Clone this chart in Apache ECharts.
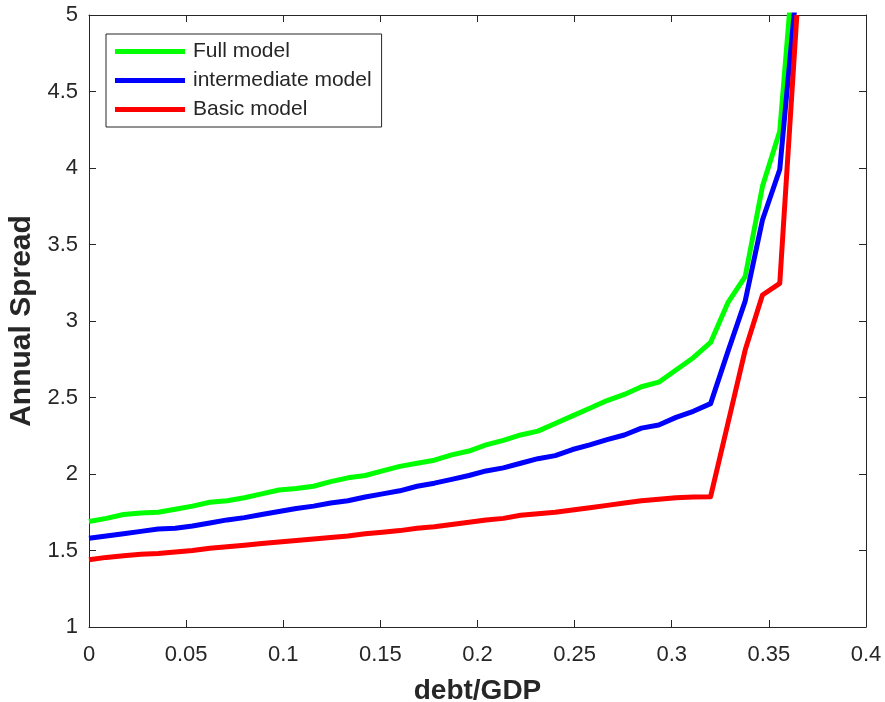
<!DOCTYPE html>
<html>
<head>
<meta charset="utf-8">
<script src="https://cdn.jsdelivr.net/npm/echarts@6/dist/echarts.min.js"></script>
<style>
  html, body { margin: 0; padding: 0; background: #fff; }
  #chart { width: 885px; height: 702px; }
</style>
</head>
<body>
<div id="chart"></div>
<script>
// debt/GDP grid
const debtGdp = [0, 0.0089, 0.0178, 0.0267, 0.0356, 0.0444, 0.0533, 0.0622, 0.0711, 0.08,
  0.0889, 0.0978, 0.1067, 0.1156, 0.1244, 0.1333, 0.1422, 0.1511, 0.16, 0.1689,
  0.1778, 0.1867, 0.1956, 0.2044, 0.2133, 0.2222, 0.2311, 0.24, 0.2489, 0.2578,
  0.2667, 0.2756, 0.2844, 0.2933, 0.3022, 0.3111, 0.32, 0.3289, 0.3378, 0.3467,
  0.3556, 0.3644];

const fullModel = [1.69, 1.71, 1.735, 1.745, 1.75, 1.77, 1.79, 1.815, 1.825, 1.845,
  1.87, 1.895, 1.905, 1.92, 1.95, 1.975, 1.99, 2.02, 2.05, 2.07,
  2.09, 2.125, 2.15, 2.19, 2.22, 2.255, 2.28, 2.33, 2.38, 2.43,
  2.48, 2.52, 2.57, 2.60, 2.68, 2.76, 2.86, 3.12, 3.29, 3.88,
  4.24, 5.6];

const intermediateModel = [1.58, 1.595, 1.61, 1.625, 1.64, 1.645, 1.66, 1.68, 1.70, 1.715,
  1.735, 1.755, 1.775, 1.79, 1.81, 1.825, 1.85, 1.87, 1.89, 1.92,
  1.94, 1.965, 1.99, 2.02, 2.04, 2.07, 2.10, 2.12, 2.16, 2.19,
  2.225, 2.255, 2.30, 2.32, 2.37, 2.41, 2.46, 2.80, 3.13, 3.66,
  3.99, 5.2];

const basicModel = [1.44, 1.455, 1.465, 1.475, 1.48, 1.49, 1.50, 1.515, 1.525, 1.535,
  1.545, 1.555, 1.565, 1.575, 1.585, 1.595, 1.61, 1.62, 1.63, 1.645,
  1.655, 1.67, 1.685, 1.70, 1.71, 1.73, 1.74, 1.75, 1.765, 1.78,
  1.795, 1.81, 1.825, 1.835, 1.845, 1.85, 1.852, 2.33, 2.81, 3.17,
  3.246, 5.0];

const seriesNames = ['Full model', 'intermediate model', 'Basic model'];
const seriesColors = ['#00ff00', '#0000ff', '#ff0000'];
const seriesValues = [fullModel, intermediateModel, basicModel];

const axisColor = '#262626';
const font = '"Liberation Sans", Arial, Helvetica, sans-serif';

const pairs = vals => debtGdp.map((x, i) => [x, vals[i]]);

const boxAxis = {
  axisLine: { show: true, onZero: false, lineStyle: { color: axisColor, width: 1 } },
  axisTick: { show: true, inside: true, length: 7, lineStyle: { color: axisColor } },
  splitLine: { show: false }
};

const chart = echarts.init(document.getElementById('chart'));
chart.setOption({
  backgroundColor: '#ffffff',
  animation: false,
  textStyle: { fontFamily: font },
  grid: { left: 89, right: 19, top: 15, bottom: 75, containLabel: false, outerBoundsMode: 'none' },
  legend: {
    orient: 'vertical',
    left: 106,
    top: 34,
    data: seriesNames,
    icon: 'rect',
    itemWidth: 70,
    itemHeight: 5,
    itemGap: 8,
    padding: [7, 10, 7, 9],
    borderColor: axisColor,
    borderWidth: 1,
    backgroundColor: '#ffffff',
    textStyle: { fontFamily: font, fontSize: 21, color: axisColor, padding: [0, 0, 0, 3], lineHeight: 21 }
  },
  xAxis: [
    Object.assign({
      type: 'value', position: 'bottom', min: 0, max: 0.4, interval: 0.05,
      name: 'debt/GDP', nameLocation: 'middle', nameGap: 50,
      nameTextStyle: { fontFamily: font, fontSize: 28, fontWeight: 'bold', color: axisColor },
      axisLabel: { fontFamily: font, fontSize: 22, color: axisColor, margin: 17 }
    }, boxAxis),
    Object.assign({
      type: 'value', position: 'top', min: 0, max: 0.4, interval: 0.05,
      axisLabel: { show: false }
    }, boxAxis)
  ],
  yAxis: [
    Object.assign({
      type: 'value', position: 'left', min: 1, max: 5, interval: 0.5,
      name: 'Annual Spread', nameLocation: 'middle', nameGap: 50,
      nameTextStyle: { fontFamily: font, fontSize: 30, fontWeight: 'bold', color: axisColor },
      axisLabel: { fontFamily: font, fontSize: 22, color: axisColor, margin: 11 }
    }, boxAxis),
    Object.assign({
      type: 'value', position: 'right', min: 1, max: 5, interval: 0.5,
      axisLabel: { show: false }
    }, boxAxis)
  ],
  series: seriesNames.map((name, k) => ({
    name: name,
    type: 'line',
    xAxisIndex: 0,
    yAxisIndex: 0,
    data: pairs(seriesValues[k]),
    showSymbol: false,
    symbol: 'none',
    clip: true,
    color: seriesColors[k],
    lineStyle: { color: seriesColors[k], width: 5, join: 'round' }
  }))
});
</script>
</body>
</html>
